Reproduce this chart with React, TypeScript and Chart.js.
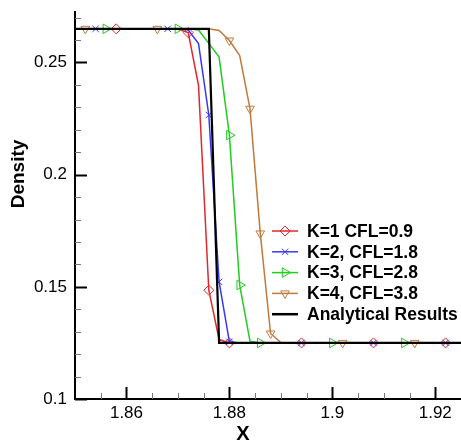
import { useEffect, useRef } from 'react';
import { Chart, registerables } from 'chart.js';
import { drawPoint } from 'chart.js/helpers';

Chart.register(...registerables);

// series names, in legend order
const seriesLabels = ['K=1 CFL=0.9', 'K=2, CFL=1.8', 'K=3, CFL=2.8', 'K=4, CFL=3.8', 'Analytical Results'];

// K=1, CFL=0.9
const k1X = [1.85, 1.858, 1.87, 1.872, 1.874, 1.876, 1.878, 1.88, 1.894, 1.908, 1.922, 1.936];
const k1Y = [0.265, 0.265, 0.2648, 0.2633, 0.2398, 0.1485, 0.1265, 0.125, 0.125, 0.125, 0.125, 0.125];
const k1Marks = [0, 1, 0, 1, 0, 1, 0, 1, 1, 1, 1, 0];

// K=2, CFL=1.8
const k2X = [1.85, 1.854, 1.868, 1.87, 1.872, 1.874, 1.876, 1.878, 1.88, 1.882, 1.894, 1.908, 1.922, 1.936];
const k2Y = [0.265, 0.265, 0.265, 0.265, 0.2645, 0.2584, 0.2266, 0.1522, 0.1255, 0.125, 0.125, 0.125, 0.125, 0.125];
const k2Marks = [0, 1, 1, 0, 0, 0, 1, 1, 1, 0, 1, 1, 1, 0];

// K=3, CFL=2.8
const k3X = [1.85, 1.856, 1.87, 1.872, 1.874, 1.876, 1.878, 1.88, 1.882, 1.884, 1.886, 1.9, 1.914, 1.936];
const k3Y = [0.265, 0.265, 0.265, 0.265, 0.2645, 0.2585, 0.2524, 0.2176, 0.1508, 0.1258, 0.125, 0.125, 0.125, 0.125];
const k3Marks = [0, 1, 1, 0, 0, 0, 0, 1, 1, 0, 1, 1, 1, 0];

// K=4, CFL=3.8
const k4X = [1.85, 1.852, 1.866, 1.874, 1.876, 1.878, 1.88, 1.882, 1.884, 1.886, 1.888, 1.89, 1.892, 1.902, 1.916, 1.936];
const k4Y = [0.265, 0.265, 0.265, 0.265, 0.265, 0.2643, 0.2598, 0.2531, 0.2294, 0.1738, 0.1292, 0.1252, 0.125, 0.125, 0.125, 0.125];
const k4Marks = [0, 1, 1, 0, 0, 0, 1, 0, 1, 1, 1, 0, 0, 1, 1, 0];

// analytical solution
const exactX = [1.85, 1.876, 1.878, 1.936];
const exactY = [0.265, 0.265, 0.125, 0.125];

const xMajorTicks = [1.86, 1.88, 1.9, 1.92];
const xMinorTicks = [1.855, 1.865, 1.87, 1.875, 1.885, 1.89, 1.895, 1.905, 1.91, 1.915];
const yMajorTicks = [0.1, 0.15, 0.2, 0.25];
const yMinorTicks = [0.11, 0.12, 0.13, 0.14, 0.16, 0.17, 0.18, 0.19, 0.21, 0.22, 0.23, 0.24, 0.26, 0.27];

const colors = ['#e3262b', '#3838f2', '#22cc22', '#c27a3c', '#000000'];
const markerStyles: any[] = ['rectRot', 'crossRot', 'triangle', 'triangle', false];
const markerRotations = [0, 0, 90, 180, 0];
const markerRadii = [5, 4.5, 5.5, 5, 0];

const FONT = '"Liberation Sans", Arial, Helvetica, sans-serif';

const decorPlugin = {
    id: 'decor',
    afterDraw(chart: any) {
        const { ctx, chartArea, scales } = chart;
        const xs = scales.x;
        const ys = scales.y;
        ctx.save();

        // inward ticks
        const xTicks = (vals: number[], len: number, width: number, color: string) => {
            ctx.strokeStyle = color;
            ctx.lineWidth = width;
            vals.forEach(v => {
                const px = Math.round(xs.getPixelForValue(v)) + 0.5;
                ctx.beginPath();
                ctx.moveTo(px, chartArea.bottom);
                ctx.lineTo(px, chartArea.bottom - len);
                ctx.stroke();
            });
        };
        const yTicks = (vals: number[], len: number, width: number, color: string) => {
            ctx.strokeStyle = color;
            ctx.lineWidth = width;
            vals.forEach(v => {
                const py = Math.round(ys.getPixelForValue(v)) + 0.5;
                ctx.beginPath();
                ctx.moveTo(chartArea.left, py);
                ctx.lineTo(chartArea.left + len, py);
                ctx.stroke();
            });
        };
        xTicks(xMinorTicks, 6, 1, '#777');
        yTicks(yMinorTicks, 6, 1, '#777');
        xTicks(xMajorTicks, 12, 2, '#000');
        yTicks(yMajorTicks, 12, 2, '#000');

        // axis titles
        ctx.fillStyle = '#000';
        ctx.textAlign = 'center';
        ctx.textBaseline = 'middle';
        ctx.font = `bold 20px ${FONT}`;
        ctx.fillText('X', 243, 434);
        ctx.save();
        ctx.translate(19, 174);
        ctx.rotate(-Math.PI / 2);
        ctx.font = `bold 19px ${FONT}`;
        ctx.fillText('Density', 0, 0);
        ctx.restore();

        // legend: line sample with marker, then label
        ctx.font = `bold 17.5px ${FONT}`;
        ctx.textAlign = 'left';
        seriesLabels.forEach((label, i) => {
            const y = 231 + i * 20.8;
            ctx.strokeStyle = colors[i];
            ctx.lineWidth = i === 4 ? 2.5 : 1.5;
            ctx.beginPath();
            ctx.moveTo(272, y);
            ctx.lineTo(298, y);
            ctx.stroke();
            if (markerStyles[i]) {
                ctx.fillStyle = 'rgba(0,0,0,0)';
                ctx.lineWidth = 1;
                drawPoint(ctx, {
                    pointStyle: markerStyles[i],
                    rotation: markerRotations[i],
                    radius: markerRadii[i],
                    borderWidth: 1,
                } as any, 285, y);
            }
            ctx.fillStyle = '#000';
            ctx.fillText(label, 307, y + 1);
        });

        ctx.restore();
    },
};

function makeSeries(i: number, xs: number[], ys: number[], marks: number[] | null, order: number) {
    return {
        label: seriesLabels[i],
        data: xs.map((x, j) => ({ x, y: ys[j] })),
        borderColor: colors[i],
        borderWidth: i === 4 ? 2.2 : 1.5,
        pointStyle: markerStyles[i],
        pointRotation: markerRotations[i],
        pointRadius: marks ? marks.map(m => (m ? markerRadii[i] : 0)) : 0,
        pointHoverRadius: 0,
        pointBorderColor: colors[i],
        pointBackgroundColor: 'rgba(0,0,0,0)',
        pointBorderWidth: 1,
        tension: 0,
        order,
    };
}

export default function App() {
    const chartRef = useRef<HTMLCanvasElement>(null);

    useEffect(() => {
        document.body.style.margin = '0';
        if (!chartRef.current) return;

        const chart = new Chart(chartRef.current, {
            type: 'line',
            data: {
                datasets: [
                    makeSeries(0, k1X, k1Y, k1Marks, 4),
                    makeSeries(1, k2X, k2Y, k2Marks, 3),
                    makeSeries(2, k3X, k3Y, k3Marks, 2),
                    makeSeries(3, k4X, k4Y, k4Marks, 1),
                    makeSeries(4, exactX, exactY, null, 0),
                ] as any,
            },
            options: {
                animation: false,
                responsive: false,
                layout: { padding: { top: 12, right: 0, bottom: 0, left: 0 } },
                plugins: {
                    legend: { display: false },
                    tooltip: { enabled: false },
                },
                scales: {
                    x: {
                        type: 'linear',
                        min: 1.85,
                        max: 1.925,
                        grid: { display: false, drawTicks: false },
                        border: { display: true, color: '#000', width: 2 },
                        ticks: {
                            color: '#000',
                            padding: 4,
                            font: { family: FONT, size: 17 },
                            callback: (v: any) => String(v),
                        },
                        afterBuildTicks: (axis: any) => {
                            axis.ticks = xMajorTicks.map(value => ({ value }));
                        },
                        afterFit: (axis: any) => {
                            axis.height = 41;
                            axis.paddingLeft = 0;
                            axis.paddingRight = 0;
                        },
                    },
                    y: {
                        type: 'linear',
                        min: 0.1,
                        max: 0.2725,
                        grid: { display: false, drawTicks: false },
                        border: { display: true, color: '#000', width: 2 },
                        ticks: {
                            color: '#000',
                            padding: 8,
                            font: { family: FONT, size: 17 },
                            callback: (v: any) => String(v),
                        },
                        afterBuildTicks: (axis: any) => {
                            axis.ticks = yMajorTicks.map(value => ({ value }));
                        },
                        afterFit: (axis: any) => {
                            axis.width = 75;
                            axis.paddingTop = 0;
                            axis.paddingBottom = 0;
                        },
                    },
                },
            } as any,
            plugins: [decorPlugin],
        });

        return () => {
            chart.destroy();
        };
    }, []);

    return (
        <div style={{ width: 461, height: 440, background: '#fff' }}>
            <canvas ref={chartRef} width={461} height={440} style={{ display: 'block' }}></canvas>
        </div>
    );
}
